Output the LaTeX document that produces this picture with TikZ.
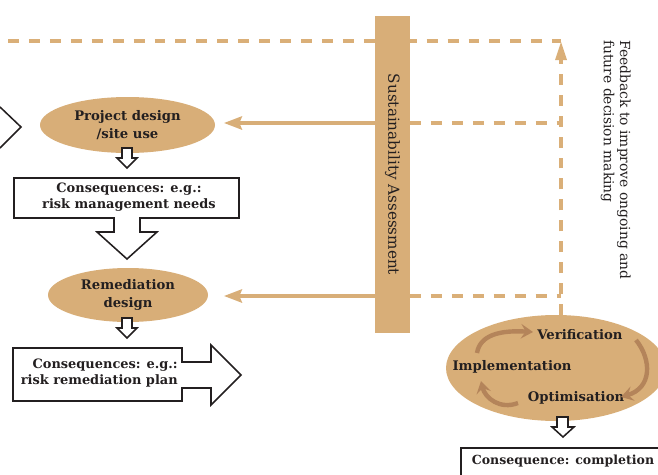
\documentclass[tikz,border=0pt]{standalone}
\usepackage{fontspec}
\setmainfont{DejaVu Serif}
\usetikzlibrary{arrows.meta,shapes.geometric}
\definecolor{tan}{HTML}{D8AE78}
\definecolor{tandash}{HTML}{DAAF78}
\definecolor{cyc}{HTML}{B4845A}
\definecolor{ink}{HTML}{231F20}
\begin{document}
\begin{tikzpicture}[x=0.75pt,y=-0.75pt,
  ell/.style={ellipse,fill=tan,inner sep=0pt,text=ink,font=\bfseries\fontsize{9.9}{13}\selectfont,align=center},
  lbl/.style={text=ink,inner sep=0pt,font=\bfseries\fontsize{9.7}{12.2}\selectfont},
  cyclbl/.style={text=ink,inner sep=0pt,font=\bfseries\fontsize{9.9}{12}\selectfont},
  outline/.style={draw=ink,line width=1.15pt,fill=white,line join=miter},
  solidarr/.style={draw=tan,line width=2.3pt,-{Stealth[length=13.5pt,width=10pt,inset=2pt]}},
  dashline/.style={draw=tandash,line width=2.4pt,dash pattern=on 8.2pt off 7.5pt},
  cycarr/.style={draw=cyc,line width=3.3pt,-{Stealth[length=9pt,width=11pt,inset=3.5pt]}}]
\useasboundingbox (0,0) rectangle (658,475);
\clip (0,0) rectangle (658,475);

% left chevron fragment
\coordinate (c1) at (0,107);
\coordinate (c2) at (21,127);
\coordinate (c3) at (0,148);
\draw[draw=ink,line width=1.15pt] (c1) -- (c2) -- (c3);

% dashed feedback lines
\coordinate (tl) at (8,41);
\coordinate (tr) at (561,41);
\coordinate (m1) at (410,123);
\coordinate (m1e) at (561,123);
\coordinate (m2) at (410,296);
\coordinate (m2e) at (561,296);
\coordinate (vb) at (561,315);
\draw[dashline] (tl) -- (tr);
\draw[dashline] (m1) -- (m1e);
\draw[dashline] (m2) -- (m2e);
\draw[dashline] (vb) -- ([yshift=-14pt]tr);
\fill[tandash] (tr) ++(0,1) -- ++(-6,18) -- ++(12,0) -- cycle;

% sustainability bar
\node[fill=tan,minimum width=237.75pt,minimum height=26.25pt,inner sep=0pt,rotate=-90,
  text=ink,font=\fontsize{11.4}{12}\selectfont] (bar) at (392.5,174.5) {Sustainability Assessment};

% feedback text
\node[rotate=-90,anchor=north west,align=left,text=ink,inner sep=0pt,
  font=\fontsize{10.4}{12.2}\selectfont] (fb) at (631,40)
  {Feedback to improve ongoing and\\future decision making};

% ellipses
\node[ell,minimum width=131.25pt,minimum height=42pt] (proj) at (127.5,125) {Project design\\/site use};
\node[ell,minimum width=120pt,minimum height=40.5pt] (rem) at (128,295) {Remediation\\design};
\node[ell,minimum width=165pt,minimum height=79.5pt] (cyc) at (556,368) {};

% solid arrows from bar
\coordinate (s1) at (376,123);
\coordinate (t1) at (224,123);
\coordinate (s2) at (376,296);
\coordinate (t2) at (224,296);
\draw[solidarr] (s1) -- (t1);
\draw[solidarr] (s2) -- (t2);

% small hollow down arrows
\draw[outline] (122,148) -- (132,148) -- (132,158) -- (137,158) -- (127,168) -- (117,158) -- (122,158) -- cycle;
\draw[outline] (122,318) -- (132,318) -- (132,328) -- (137,328) -- (127,338) -- (117,328) -- (122,328) -- cycle;
\draw[outline] (557,417) -- (568,417) -- (568,427) -- (574,427) -- (563,437) -- (552,427) -- (557,427) -- cycle;

% box 1 with down arrow
\draw[outline] (14,178) -- (239,178) -- (239,218) -- (140,218) -- (140,232) -- (157,232) -- (127,259)
  -- (97,232) -- (114,232) -- (114,218) -- (14,218) -- cycle;
\node[lbl,align=center] (box1) at (129,197) {Consequences: e.g.:\\risk management needs};

% box 2 with right arrow
\draw[outline] (13,348) -- (182,348) -- (182,362) -- (211,362) -- (211,345) -- (241,375) -- (211,405)
  -- (211,388) -- (182,388) -- (182,401) -- (13,401) -- cycle;
\node[lbl,align=right,anchor=east] (box2) at (178,373) {Consequences: e.g.:\\risk remediation plan};

% box 3
\draw[outline] (461,500) -- (461,448) -- (700,448);
\node[cyclbl,font=\bfseries\fontsize{9.4}{12}\selectfont] (box3) at (563,461) {Consequence: completion};

% cycle labels
\node[cyclbl] (ver) at (580,335) {Verification};
\node[cyclbl] (imp) at (512,367) {Implementation};
\node[cyclbl] (opt) at (576,398) {Optimisation};

% cycle arrows
\coordinate (a1s) at (477,353);
\coordinate (a1e) at (533,332);
\coordinate (a2s) at (636,340);
\coordinate (a2e) at (621,397);
\coordinate (a3s) at (518,403);
\coordinate (a3e) at (481,381);
\draw[cycarr] (a1s) .. controls (480,335) and (500,330) .. (a1e);
\draw[cycarr] (a2s) .. controls (652,360) and (652,388) .. (a2e);
\draw[cycarr] (a3s) .. controls (500,410) and (485,398) .. (a3e);
\end{tikzpicture}
\end{document}
